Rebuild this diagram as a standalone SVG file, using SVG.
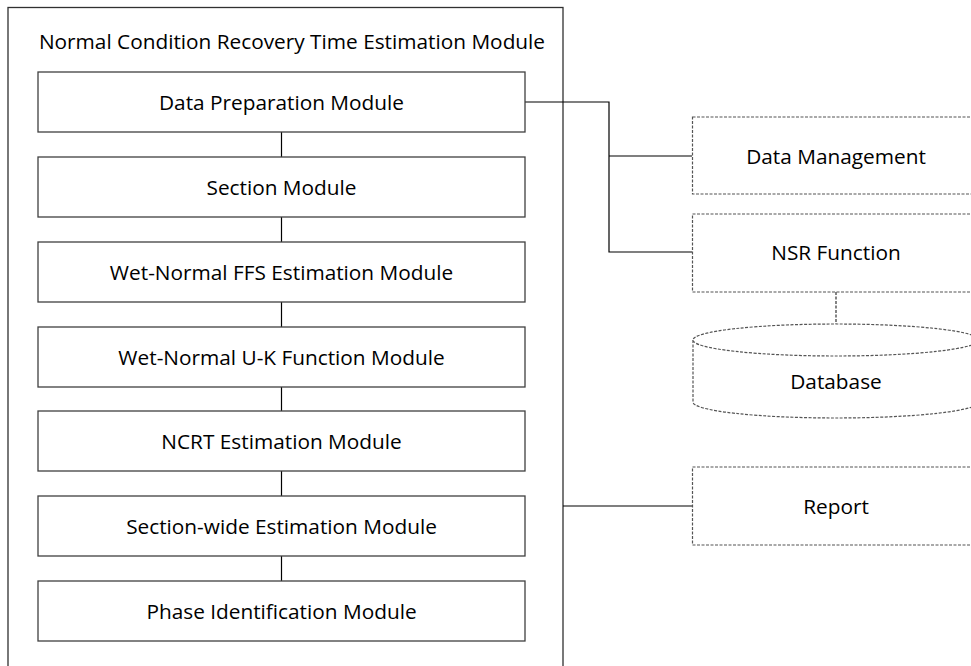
<svg xmlns="http://www.w3.org/2000/svg" width="971" height="666" viewBox="0 0 971 666">
<style>
text{font-family:"Open Sans","Noto Sans","Liberation Sans",sans-serif;font-size:20.8px;fill:#000;text-anchor:middle;dominant-baseline:central}
.mod{fill:#fff;stroke:#404040;stroke-width:1.3}
.ext{fill:#fff;stroke:#555;stroke-width:1.2;stroke-dasharray:3 1.5}
.con{fill:none;stroke:#000;stroke-width:1.2}
.dcon{fill:none;stroke:#333;stroke-width:1.2;stroke-dasharray:3 1.5}
</style>
<rect width="971" height="666" fill="#fff"/>
<g id="outer">
<rect x="8" y="7.5" width="555" height="670" fill="#fff" stroke="#303030" stroke-width="1.3"/>
<text x="292" y="41">Normal Condition Recovery Time Estimation Module</text>
</g>
<g id="connectors">
<path class="con" d="M281.5 132V157M281.5 217V242M281.5 302V327M281.5 387V411M281.5 471V496M281.5 556V581"/>
<path class="con" d="M525 102H609V252H692M609 156H692"/>
<path class="con" d="M563 506H692"/>
<path class="dcon" d="M836 292V324"/>
</g>
<g id="data-preparation"><rect class="mod" x="38" y="72" width="487" height="60"/><text x="281.5" y="102">Data Preparation Module</text></g>
<g id="section"><rect class="mod" x="38" y="157" width="487" height="60"/><text x="281.5" y="187">Section Module</text></g>
<g id="ffs"><rect class="mod" x="38" y="242" width="487" height="60"/><text x="281.5" y="272">Wet-Normal FFS Estimation Module</text></g>
<g id="uk"><rect class="mod" x="38" y="327" width="487" height="60"/><text x="281.5" y="357">Wet-Normal U-K Function Module</text></g>
<g id="ncrt"><rect class="mod" x="38" y="411" width="487" height="60"/><text x="281.5" y="441">NCRT Estimation Module</text></g>
<g id="section-wide"><rect class="mod" x="38" y="496" width="487" height="60"/><text x="281.5" y="526">Section-wide Estimation Module</text></g>
<g id="phase"><rect class="mod" x="38" y="581" width="487" height="60"/><text x="281.5" y="611">Phase Identification Module</text></g>
<g id="data-management"><rect class="ext" x="692.5" y="117" width="300" height="77"/><text x="836" y="156">Data Management</text></g>
<g id="nsr"><rect class="ext" x="692.5" y="214" width="300" height="78"/><text x="836" y="252">NSR Function</text></g>
<g id="database">
<path class="ext" d="M693 340V402A143 16 0 0 0 979 402V340"/>
<ellipse class="ext" cx="836" cy="340" rx="143" ry="16"/>
<text x="836" y="381">Database</text>
</g>
<g id="report"><rect class="ext" x="692.5" y="467" width="300" height="78"/><text x="836" y="506">Report</text></g>
</svg>
